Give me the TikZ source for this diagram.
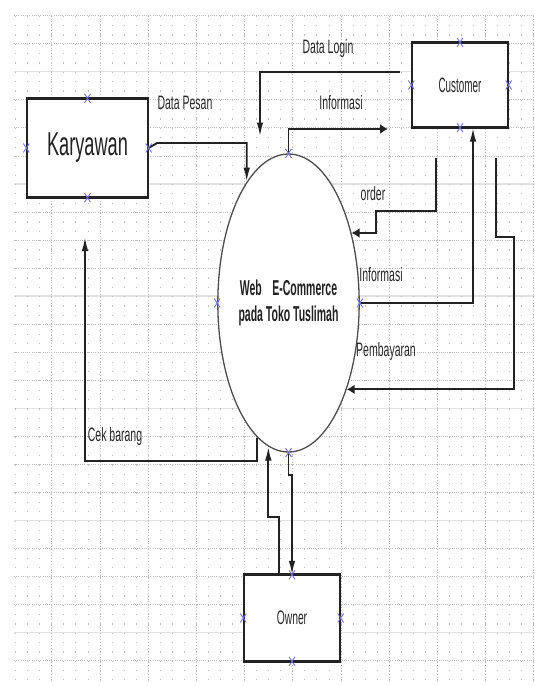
\documentclass[tikz,border=0pt]{standalone}
\usepackage{fontspec}
\setmainfont{Liberation Sans}
\usepackage{graphicx}
\usetikzlibrary{arrows.meta,shapes.geometric,shapes.misc}

\definecolor{ink}{HTML}{222222}
\definecolor{labelgray}{HTML}{282828}
\definecolor{gridgray}{HTML}{BEBEBE}
\definecolor{gridband}{HTML}{E2E2E2}
\definecolor{markblue}{HTML}{7272E2}

% text of the screenshot is squeezed sideways, so stretch it upwards
\newcommand{\tall}[2][1.85]{\scalebox{1}[#1]{#2}}

\tikzset{
  entity/.style={draw=ink, line width=1.4pt, fill=white, inner sep=0pt},
  procbubble/.style={ellipse, draw=ink!80, line width=1.3pt, fill=white, inner sep=0pt,
    minimum width=127pt, minimum height=298pt},
  flowlabel/.style={inner sep=0pt, text=labelgray, font=\fontsize{10.5}{13}\selectfont},
  flow/.style={draw=ink, line width=1.9pt},
  toV/.style={flow, -{Latex[length=14pt,width=6.5pt]}},
  toH/.style={flow, -{Latex[length=8pt,width=10pt]}},
  xmark/.style={cross out, draw=markblue, line width=0.9pt, minimum width=5pt,
    minimum height=8pt, inner sep=0pt},
}

\begin{document}
\begin{tikzpicture}[x=1pt, y=-1pt]
        \useasboundingbox (0,0) rectangle (535,686);
        \fill[white] (0,0) rectangle (535,686);

        % Grid
        \foreach \k in {0,...,23}
          \draw[gridgray, line width=0.7pt, dash pattern=on 0.9pt off 1.3pt]
            (14,{15.6+28.05*\k}) -- (535,{15.6+28.05*\k});
        \foreach \k in {0,...,5}
          \draw[gridband, line width=1.4pt] (14,{71.7+112.2*\k}) -- (535,{71.7+112.2*\k});
        \foreach \k in {0,...,43}
          \draw[gridgray, line width=0.7pt, dash pattern=on 1.2pt off 8.15pt]
            ({15.55+12.05*\k},15.6) -- ({15.55+12.05*\k},680);
        \foreach \k in {0,...,10}
          \draw[gridgray, line width=0.7pt, dash pattern=on 0.9pt off 2pt]
            ({51.7+48.2*\k},15.6) -- ({51.7+48.2*\k},680);

        % Nodes
        \node[entity, minimum width=121pt, minimum height=98pt, text=ink] (kar) at (87.5,148)
          {\fontsize{18.2}{20}\selectfont\tall[1.82]{Karyawan}};
        \node[entity, minimum width=96pt, minimum height=84pt, text=labelgray] (cust) at (460,85)
          {\fontsize{9.9}{12}\selectfont\tall[2.1]{Customer}};
        \node[procbubble, text=ink, font=\fontsize{10.5}{13}\selectfont\bfseries] (web) at (288.5,303)
          {\tall[2.05]{\begin{tabular}{@{}c@{}}Web\quad E-Commerce\\pada Toko Tuslimah\end{tabular}}};
        \node[entity, minimum width=96pt, minimum height=85pt, text=labelgray] (own) at (292,618)
          {\fontsize{10.3}{12}\selectfont\tall[1.9]{Owner}};
        \foreach \n in {kar,cust,own}
          \draw[ink, line width=2.8pt] (\n.north west) -- (\n.north east) (\n.south west) -- (\n.south east);

        % Free ends
        \coordinate (loginA) at (400,71.7);
        \coordinate (loginB) at (260,136.5);
        \coordinate (infoA) at (388,129);
        \coordinate (orderA) at (436,158);
        \coordinate (payA) at (495.6,158);
        \coordinate (cekB) at (85,237);

        % Arrows
        \draw[toV] (loginA) -| (loginB);
        \draw[toH] (web.north) |- (infoA);
        \draw[toV] (kar.east) -- (157,143) -| (web.109);
        \draw[toH] (orderA) |- (376,210.6) |- (web.48);
        \draw[toV] (web.east) -| ([xshift=13pt]cust.south);
        \draw[toH] (payA) |- (513.6,237) |- (web.-56);
        \draw[toV] (web.-103) |- (85,461) -- (cekB);
        \draw[toV] ([xshift=-13pt]own.north) -- ++(0,-58) -| (web.-98);
        \draw[toV] (web.south) -- ++(0,22) -| (own.north);

        % Labels
        \node[flowlabel] (lblLogin) at (328,48) {\tall{Data Login}};
        \node[flowlabel] (lblInfoTop) at (341,103) {\tall{Informasi}};
        \node[flowlabel] (lblPesan) at (185,103) {\tall{Data Pesan}};
        \node[flowlabel] (lblOrder) at (373,194) {\tall{order}};
        \node[flowlabel] (lblInfoRight) at (381,275) {\tall{Informasi}};
        \node[flowlabel] (lblBayar) at (386,351) {\tall{Pembayaran}};
        \node[flowlabel] (lblCek) at (115,436) {\tall{Cek barang}};

        % Connection marks
        \foreach \n in {kar,cust,web,own}
          \foreach \a in {north,south,east,west}
            \node[xmark] (\n-\a) at (\n.\a) {};
    \end{tikzpicture}
\end{document}
